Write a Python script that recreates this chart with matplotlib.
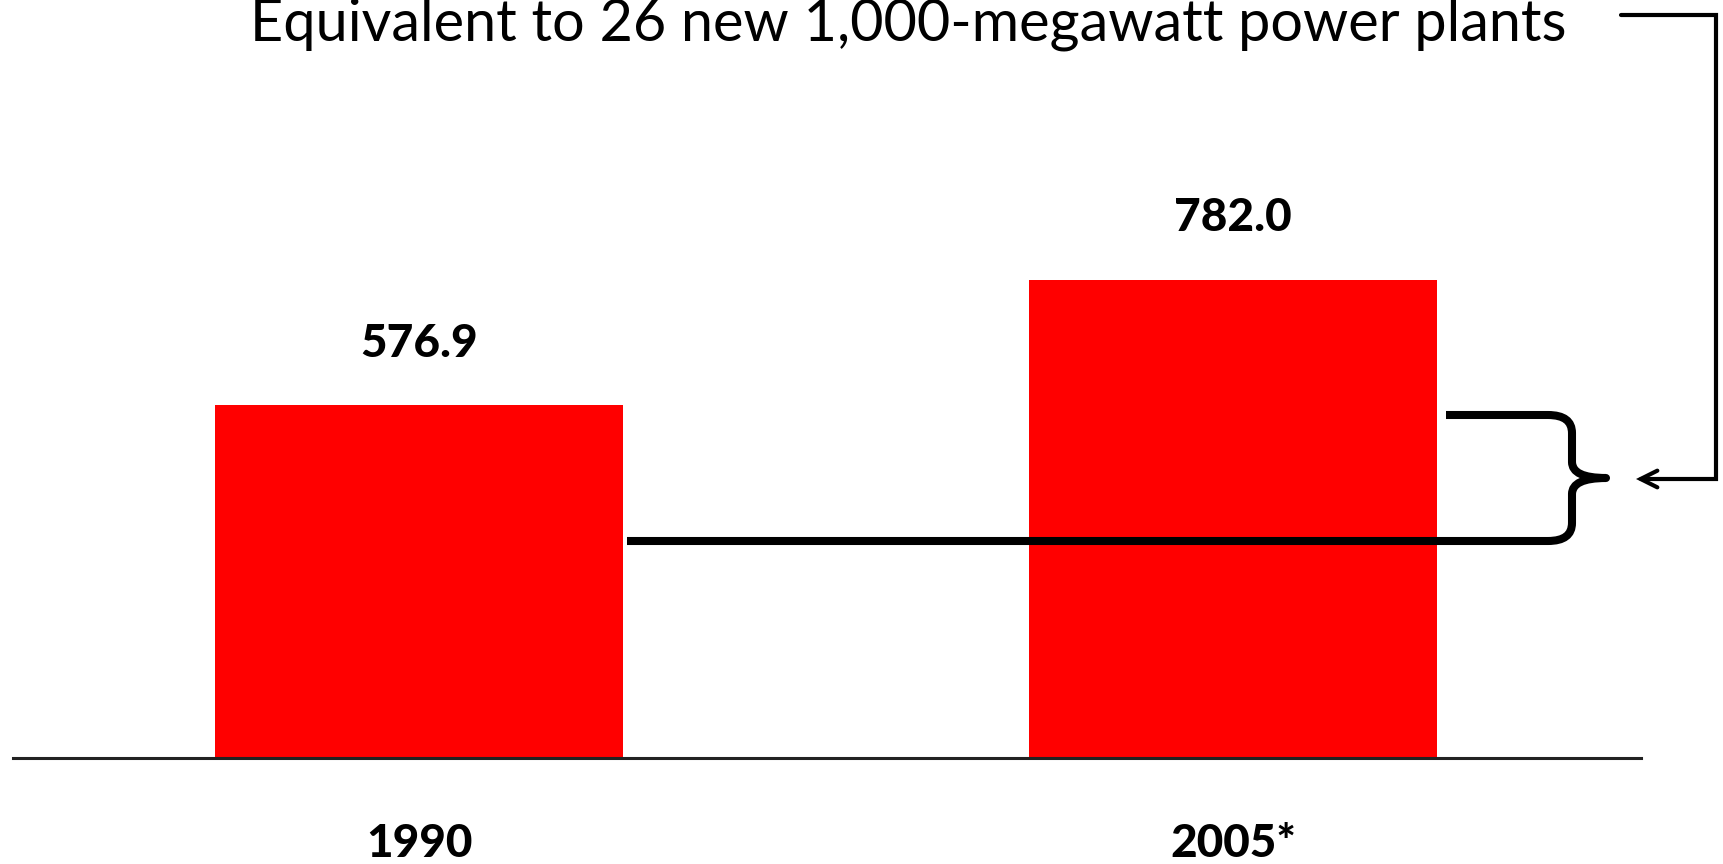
import matplotlib
matplotlib.use('Agg')
import matplotlib.pyplot as plt
from matplotlib.path import Path
from matplotlib.patches import PathPatch, FancyArrowPatch

W, H = 1723, 864
YEARS = ['1990', '2005*']
VALUES = [576.9, 782.0]
TITLE = 'Equivalent to 26 new 1,000-megawatt power plants'
RED, INK = '#FF0000', '#000000'
FONT = 'Lato'

fig = plt.figure(figsize=(W / 100, H / 100), dpi=100)

# bar axes: baseline at y=758 px, bars 408 px wide, 814 px apart
left, base, right = 13, 758, 1641
ax = fig.add_axes([left / W, (H - base) / H, (right - left) / W, base / H])
px_per_unit = 353 / VALUES[0]
ax.set_ylim(0, base / px_per_unit)
x0 = (419 - left) / 814
ax.set_xlim(-x0, (right - left) / 814 - x0)
xs = range(len(VALUES))
ax.bar(xs, VALUES, width=0.501, color=RED, zorder=2)
for x, v in zip(xs, VALUES):
    ax.text(x, v + 100, f'{v:.1f}', ha='center', va='center',
            fontsize=33, fontweight='black', family=FONT)
for s in ('top', 'left', 'right'):
    ax.spines[s].set_visible(False)
ax.spines['bottom'].set_linewidth(2.2)
ax.spines['bottom'].set_color('#222222')
ax.set_xticks([])
ax.set_yticks([])
ax.patch.set_alpha(0)

# year labels below the axis
for x, lab in zip(xs, YEARS):
    ax.text(x, -140, lab, ha='center', va='center', fontsize=33,
            fontweight='black', family=FONT, clip_on=False)

# overlay in pixel coords for the brace and connector
art = fig.add_axes([0, 0, 1, 1])
art.set_xlim(0, W)
art.set_ylim(H, 0)
art.axis('off')
art.patch.set_alpha(0)

art.text(250, 24, TITLE, ha='left', va='center', fontsize=41.5, family=FONT)

lo, hi, bx, tip = 541, 415, 1572, 1606
mid = (lo + hi) / 2
verts = [(627, lo), (1548, lo), (bx, lo), (bx, lo - 18),
         (bx, mid + 16), (bx, mid), (tip, mid),
         (bx, mid), (bx, mid - 16),
         (bx, hi + 18), (bx, hi), (1548, hi), (1446, hi)]
codes = [Path.MOVETO, Path.LINETO, Path.CURVE3, Path.CURVE3,
         Path.LINETO, Path.CURVE3, Path.CURVE3,
         Path.CURVE3, Path.CURVE3,
         Path.LINETO, Path.CURVE3, Path.CURVE3, Path.LINETO]
art.add_patch(PathPatch(Path(verts, codes), fill=False, lw=5.8,
                        ec=INK, capstyle='butt', joinstyle='round'))

conn = Path([(1621, 15), (1716, 15), (1716, 479), (1636, 479)])
art.add_patch(FancyArrowPatch(path=conn, arrowstyle='->,head_length=12,head_width=6',
                              lw=3, color=INK, joinstyle='miter'))

fig.savefig('out.png', dpi=100)
